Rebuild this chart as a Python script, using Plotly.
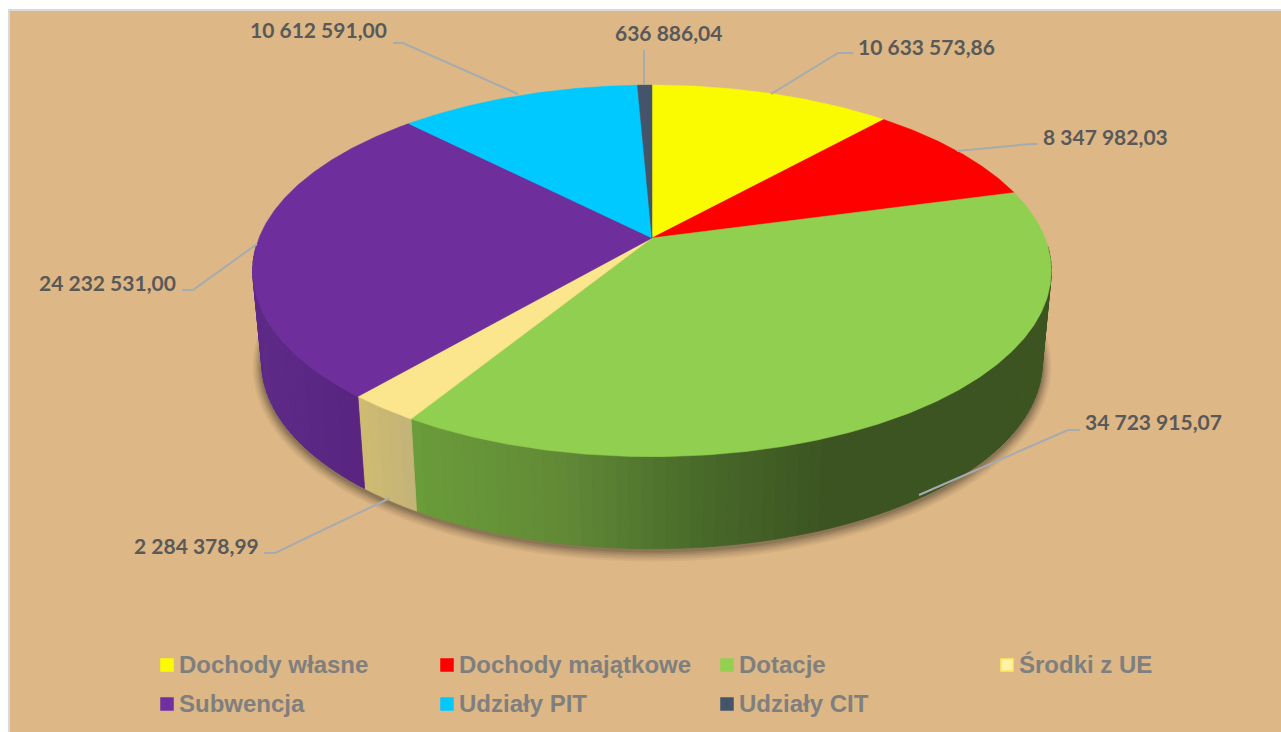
import numpy as np
import plotly.graph_objects as go

categories = ["Dochody własne", "Dochody majątkowe", "Dotacje", "Środki z UE", "Subwencja", "Udziały PIT", "Udziały CIT"]
values = [10633573.86, 8347982.03, 34723915.07, 2284378.99, 24232531.00, 10612591.00, 636886.04]
colors = ["#FBFB00", "#FF0000", "#90CF4F", "#FBE58D", "#6E2E9C", "#00C9FF", "#44546A"]

W, H = 1281, 732
BG = "#DDB785"
LABEL = "#595959"
LEGEND = "#7F7F7F"
LEADER = "#A6ABB0"

# pie geometry (perspective projection of a disc, pixel-based axes)
CX, TOP_Y, TOP_RX, TOP_RY = 652, 238, 393, 180
BOT_Y, BOT_RX, BOT_RY = 330, 384, 180
K = 0.177


def project(theta_deg, cy, rx, ry, cx=CX):
    t = np.radians(theta_deg)
    x, y = np.sin(t), -np.cos(t)
    w = 1 - K * y
    return cx + rx * x / w, cy + ry * y / w


# wall shading: screen x -> colour
wall_stops = {
    "Dotacje": ([412, 560, 700, 830, 1050], [(106, 156, 58), (98, 138, 54), (72, 106, 42), (60, 84, 33), (60, 84, 33)]),
    "Środki z UE": ([358, 417], [(207, 188, 112), (194, 178, 122)]),
    "Subwencja": ([255, 365], [(94, 42, 136), (88, 36, 128)]),
}


def wall_colour(name, x):
    xs, cs = wall_stops[name]
    c = [np.interp(x, xs, [v[i] for v in cs]) for i in range(3)]
    return "rgb(%d,%d,%d)" % tuple(int(round(v)) for v in c)


fig = go.Figure()
edges = np.concatenate([[0], np.cumsum(values)]) / np.sum(values) * 360

# soft shadow under the pie
for d, dy, a in [(9, 2, 0.05), (7.5, 2, 0.06), (6, 2, 0.08), (4.5, 2, 0.10), (3, 2, 0.12), (1.5, 2, 0.14)]:
    th = np.linspace(0, 360, 241)
    sx, sy = project(th, BOT_Y + dy, BOT_RX + d, BOT_RY + d)
    fig.add_trace(go.Scatter(x=sx, y=sy, mode="lines", fill="toself", line=dict(width=0),
                             fillcolor=f"rgba(45,40,30,{a})", hoverinfo="skip", showlegend=False))

# side walls (only the strips facing the viewer)
for i, name in enumerate(categories):
    if name not in wall_stops:
        continue
    a0, a1 = edges[i], edges[i + 1]
    n = max(2, int((a1 - a0) / 1.5))
    ticks = np.linspace(a0, a1, n + 1)
    for s in range(n):
        if not 92 <= (ticks[s] + ticks[s + 1]) / 2 <= 268:
            continue
        arc = np.linspace(ticks[s], ticks[s + 1], 4)
        tx, ty = project(arc, TOP_Y, TOP_RX, TOP_RY)
        bx, by = project(arc[::-1], BOT_Y, BOT_RX, BOT_RY)
        col = wall_colour(name, tx.mean())
        fig.add_trace(go.Scatter(x=np.r_[tx, bx, tx[0]], y=np.r_[ty, by, ty[0]], mode="lines", fill="toself",
                                 line=dict(width=0.8, color=col), fillcolor=col, hoverinfo="skip", showlegend=False))

# top face
for i, name in enumerate(categories):
    arc = np.linspace(edges[i], edges[i + 1], max(3, int(edges[i + 1] - edges[i]) * 2))
    ax, ay = project(arc, TOP_Y, TOP_RX, TOP_RY)
    fig.add_trace(go.Scatter(x=np.r_[CX, ax, CX], y=np.r_[TOP_Y, ay, TOP_Y], mode="lines", fill="toself",
                             line=dict(width=0.5, color=colors[i]), fillcolor=colors[i], name=name,
                             text=f"{name}: {values[i]:,.2f}", hoverinfo="text", showlegend=False))


def fmt(v):
    return f"{v:,.2f}".replace(",", " ").replace(".", ",")


# leader lines + data labels: value index, leader polyline, label anchor
leaders = [
    (0, [771, 838, 853], [94, 53, 53], 858, 47),
    (1, [957, 1030, 1038], [151, 144, 144], 1043, 137),
    (2, [919, 1068, 1080], [495, 430, 430], 1085, 422),
    (3, [390, 275, 264], [498, 553, 553], 134, 546),
    (4, [257, 193, 182], [244, 290, 290], 39, 283),
    (5, [518, 403, 393], [94, 43, 43], 250, 30),
    (6, [644, 644], [85, 50], 615, 33),
]
for idx, lx, ly, tx, ty in leaders:
    fig.add_trace(go.Scatter(x=lx, y=ly, mode="lines", line=dict(color=LEADER, width=2),
                             hoverinfo="skip", showlegend=False))
    fig.add_annotation(x=tx, y=ty, xref="x", yref="y", text=f"<b>{fmt(values[idx])}</b>", showarrow=False,
                       xanchor="left", yanchor="middle", xshift=-2, yshift=1,
                       font=dict(family="Lato", size=21, color=LABEL))

# legend entries
legend_x = [167, 447, 727, 1007, 167, 447, 727]
legend_y = [665, 665, 665, 665, 704, 704, 704]
legend_edge = ["#FBFB00", "#FF0000", "#92D050", "#FFE95C", "#7030A0", "#00C9FF", "#44546A"]
legend_fill = ["#FBFB00", "#FF0000", "#92D050", "#FFF3A6", "#7030A0", "#00C9FF", "#44546A"]
for i, name in enumerate(categories):
    fig.add_trace(go.Scatter(x=[legend_x[i]], y=[legend_y[i]], mode="markers",
                             marker=dict(symbol="square", size=12, color=legend_fill[i],
                                         line=dict(width=1.5, color=legend_edge[i])),
                             hoverinfo="skip", showlegend=False))
    fig.add_annotation(x=legend_x[i] + 12, y=legend_y[i], xref="x", yref="y", yshift=1, text=f"<b>{name}</b>", showarrow=False,
                       xanchor="left", yanchor="middle", xshift=-2,
                       font=dict(family="Liberation Sans", size=24, color=LEGEND))

fig.update_layout(
    width=W, height=H, autosize=False,
    margin=dict(l=0, r=0, t=0, b=0),
    paper_bgcolor="white", plot_bgcolor="white",
    xaxis=dict(range=[0, W], visible=False, fixedrange=True),
    yaxis=dict(range=[H, 0], visible=False, fixedrange=True),
    shapes=[dict(type="rect", xref="x", yref="y", x0=9, y0=10, x1=W + 2, y1=H + 2, layer="below",
                 fillcolor=BG, line=dict(color="#D9D9D9", width=2))],
)
fig.write_html("out.html", post_script="document.body.style.margin='0';document.body.style.overflow='hidden';",
               config=dict(displayModeBar=False))
